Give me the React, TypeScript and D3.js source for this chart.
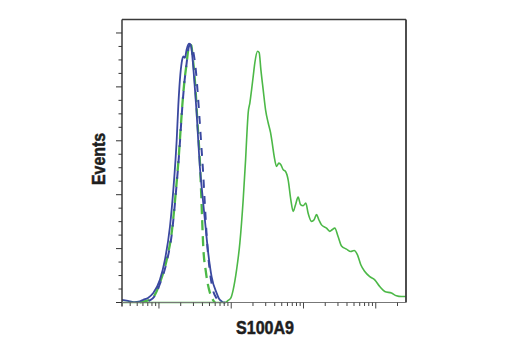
import React from "react";
import * as d3 from "d3";

// fluorescence intensity (log axis) and event counts (% of max)
const blueSolidX = [30.8, 37.2, 45.1, 54.6, 60.7, 70.5, 83.4, 103, 121, 142, 158, 176, 185, 195, 206, 217, 229, 241, 260, 274, 283, 298, 315, 332, 349, 369, 389, 432, 480, 535, 628, 675, 736, 792, 830];
const blueSolidY = [1.0, 0.6, 0.15, 0.45, 1.0, 1.7, 3.5, 8.4, 15.9, 28.2, 41.8, 60.4, 72.8, 82.7, 88.9, 91.3, 90.8, 93.8, 96.0, 95.7, 93.8, 87.6, 79.0, 70.4, 60.4, 50.0, 43.1, 30.7, 18.5, 9.6, 3.5, 1.5, 0.45, 0, 0];

const greenDashX = [54.6, 66, 75.2, 88.1, 103, 128, 150, 172, 191, 200, 210, 224, 242, 254, 268, 281, 292, 308, 325, 339, 354, 369, 387, 410, 446, 507, 558, 595];
const greenDashY = [0, 0.6, 1.0, 2.9, 7.3, 15.9, 25.9, 41.8, 56.7, 64.8, 72.8, 81.6, 89.0, 93.8, 95.7, 95.3, 91.3, 85.3, 76.5, 67.8, 60.4, 51.9, 38.1, 20.8, 11.4, 3.6, 1.0, 0];

const blueDashX = [58, 75, 88, 103, 128, 150, 172, 191, 210, 224, 242, 254, 268, 286, 305, 325, 346, 365, 385, 406, 432, 461, 499, 558, 634, 720];
const blueDashY = [0, 0.8, 2.5, 6.9, 15.1, 25.1, 41.1, 55.9, 72.3, 81.2, 89.0, 93.8, 95.7, 95.0, 91.6, 85.7, 76.7, 67.8, 58.5, 49.3, 36.3, 23.3, 12.9, 4.7, 1.4, 0];

const greenSolidX = [30.8, 400, 817, 908, 989, 1064, 1186, 1318, 1464, 1581, 1632, 1717, 1812, 1914, 2014, 2124, 2315, 2437, 2572, 2767, 2987, 3245, 3502, 3686, 3930, 4240, 4560, 4862, 5228, 5646, 6134, 6682, 7189, 7762, 8433, 9100, 9886, 10770, 11580, 12910, 14030, 15140, 16300, 17760, 20830, 23140, 24900, 27110, 30110, 33560, 39380, 45110, 50120, 55860, 62090, 70480, 82620, 96870, 113600, 133300, 164900, 193300, 226800, 262144];
const greenSolidY = [0, 0, 0, 0.8, 1.7, 4.7, 12.1, 22.2, 38.1, 53.0, 60.4, 70.4, 74.1, 79.0, 83.9, 89.0, 93.2, 92.7, 86.4, 79.0, 71.5, 66.7, 63.0, 59.3, 54.2, 50.5, 51.7, 51.1, 49.3, 48.6, 45.5, 38.1, 33.8, 36.3, 39.1, 36.3, 35.9, 36.9, 33.2, 30.1, 30.7, 32.6, 30.7, 28.8, 27.6, 26.4, 27.0, 27.6, 24.5, 21.0, 19.8, 18.9, 19.3, 17.7, 14.0, 11.5, 9.6, 8.4, 5.9, 4.1, 3.5, 2.5, 2.2, 2.2];

const xDomain = [30.8, 262144];
const yDomain = [0, 105];
const yTickValues = d3.range(0, 101, 5);

const blue = "#3a48a0";
const green = "#4cb847";

const App = () => {
  const left = 122;
  const right = 406;
  const top = 19.5;
  const bottom = 302.5;

  const x = d3.scaleLog().domain(xDomain).range([left, right]);
  const y = d3.scaleLinear().domain(yDomain).range([bottom, top]);

  const line = (xs: number[], ys: number[]) =>
    d3
      .line<number>()
      .x((d, i) => x(xs[i]))
      .y((d, i) => y(d))
      .curve(d3.curveMonotoneX)(ys) || "";

  const xTicks = x.ticks().filter(t => t >= xDomain[0] && t <= xDomain[1]);
  const isDecade = (t: number) => Math.abs(Math.log10(t) - Math.round(Math.log10(t))) < 1e-6;

  const labelStyle = {
    fontFamily: "'Liberation Sans', Arial, sans-serif",
    fontWeight: "bold" as const,
    fontSize: 18,
    fill: "#1e1e1e",
    stroke: "#1e1e1e",
    strokeWidth: 0.5,
  };

  return (
    <>
      <style>{`body{margin:0}`}</style>
      <svg width="520" height="350" viewBox="0 0 520 350" style={{ display: "block", background: "#fff" }}>
        <g fill="none" strokeLinejoin="round">
          <path d={line(greenDashX, greenDashY)} stroke={green} strokeWidth={2.3} strokeDasharray="10 6" />
          <path d={line(blueDashX, blueDashY)} stroke={blue} strokeWidth={2} strokeDasharray="8 8" strokeDashoffset={9} />
          <path d={line(blueSolidX, blueSolidY)} stroke={blue} strokeWidth={1.8} />
          <path d={line(greenSolidX, greenSolidY)} stroke={green} strokeWidth={1.6} />
        </g>

        {/* frame */}
        <g stroke="#3a3a3a" fill="none">
          <line x1={left} x2={right} y1={top} y2={top} strokeWidth={1.5} />
          <line x1={right} x2={right} y1={top} y2={bottom} strokeWidth={1.8} />
          <line x1={left} x2={left} y1={top} y2={bottom + 4} strokeWidth={1.5} />
          <line x1={left} x2={right} y1={bottom} y2={bottom} strokeWidth={1.2} stroke="#777" />
        </g>

        {/* y ticks */}
        <g stroke="#333" strokeWidth={1}>
          {yTickValues.map(v => (
            <line key={v} x1={left - (v % 20 === 0 ? 6 : 3.5)} x2={left} y1={y(v)} y2={y(v)} />
          ))}
        </g>

        {/* x ticks */}
        <g stroke="#444" strokeWidth={1}>
          {xTicks.map(t => (
            <line key={t} x1={x(t)} x2={x(t)} y1={bottom} y2={bottom + (isDecade(t) ? 6 : 3.5)} />
          ))}
        </g>

        <text
          x={(left + right) / 2 + 1}
          y={333.5}
          textAnchor="middle"
          textLength={58}
          lengthAdjust="spacingAndGlyphs"
          style={labelStyle}
        >
          S100A9
        </text>
        <text
          transform="translate(105,159) rotate(-90)"
          textAnchor="middle"
          textLength={52}
          lengthAdjust="spacingAndGlyphs"
          style={labelStyle}
        >
          Events
        </text>
      </svg>
    </>
  );
};

export default App;
